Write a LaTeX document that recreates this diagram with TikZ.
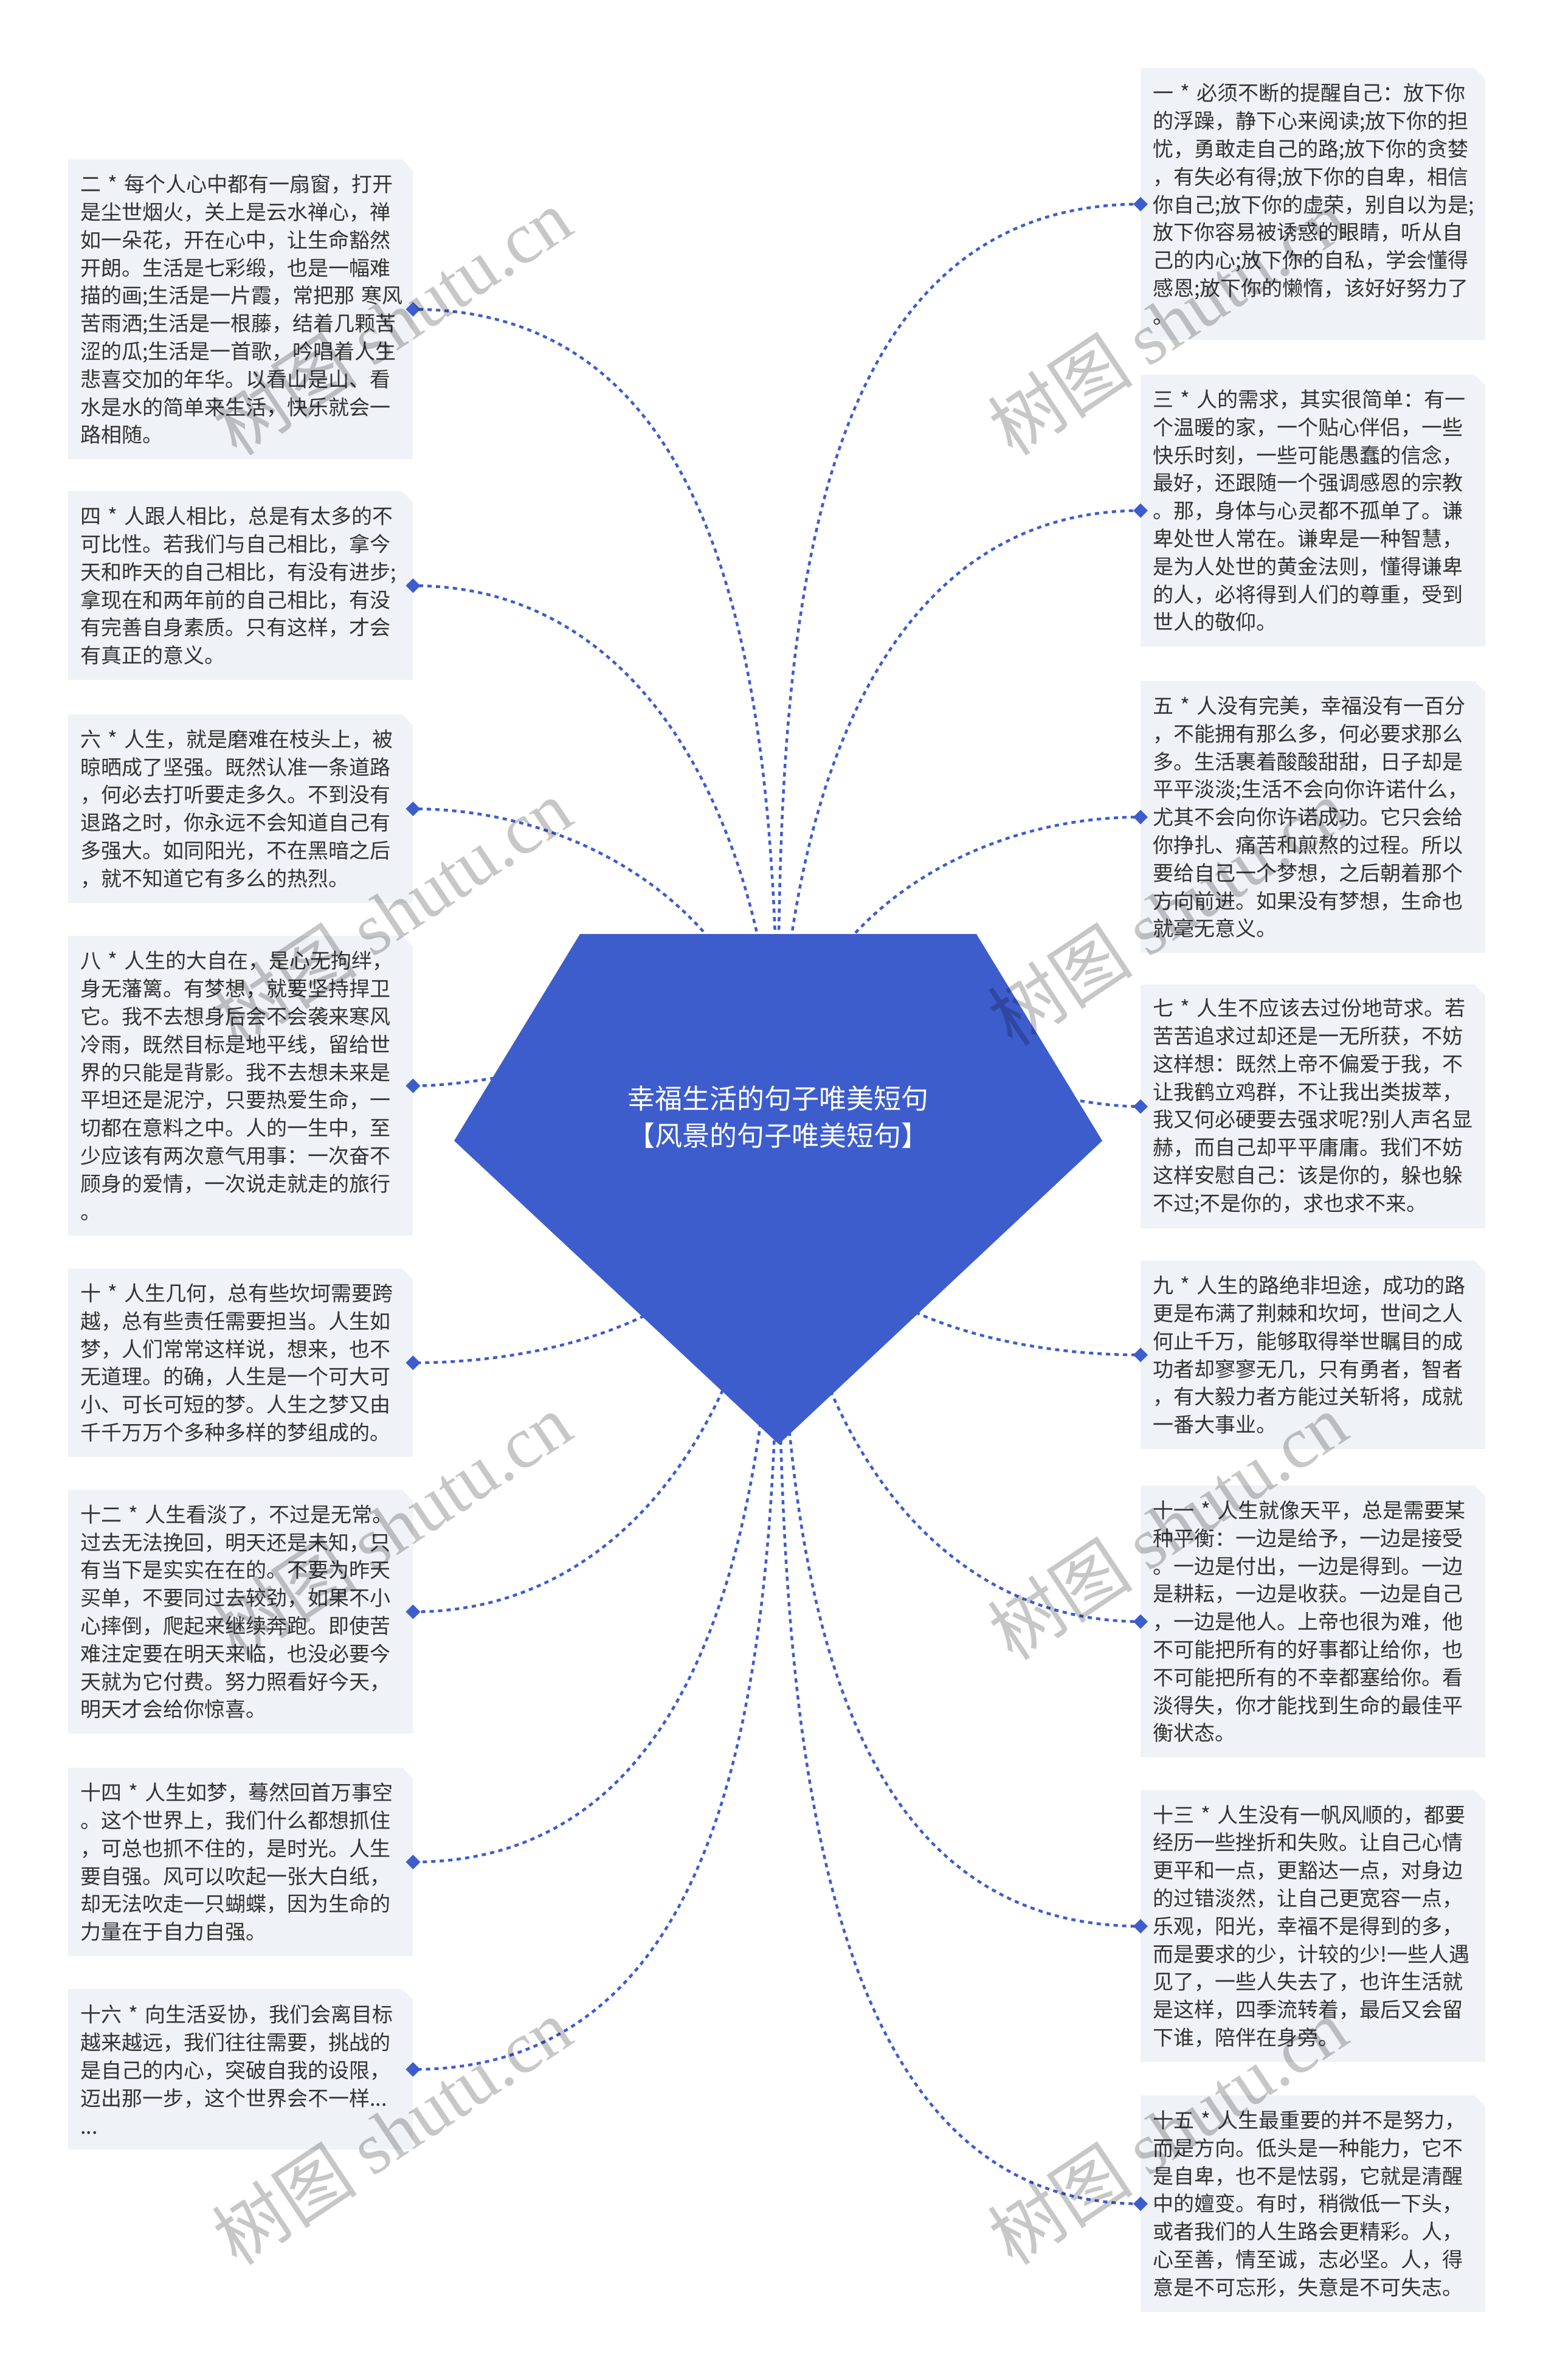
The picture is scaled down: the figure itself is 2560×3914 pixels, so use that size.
\documentclass[tikz,border=0pt]{standalone}
\usepackage{fontspec}
\setmainfont{Noto Sans CJK SC}
\newfontfamily\wmser{Liberation Serif}
\usetikzlibrary{shapes.geometric}
\definecolor{mainblue}{RGB}{61,93,205}
\definecolor{boxfill}{RGB}{239,242,246}
\definecolor{txt}{RGB}{51,51,51}
\newcommand\chamf[1]{\fill[white] ([xshift=-18pt]#1.north east) -- (#1.north east) -- ([yshift=-18pt]#1.north east) -- cycle;}
\begin{document}
\begin{tikzpicture}[x=1pt,y=-1pt,
  box/.style={fill=boxfill, text=txt, anchor=north west, align=left, text width=527pt, inner xsep=20pt, inner ysep=0pt, font=\fontsize{34}{45.8}\selectfont},
  conn/.style={draw=mainblue, line width=4.5pt, dash pattern=on 7pt off 7pt},
  dmark/.style={diamond, fill=mainblue, inner sep=0pt, minimum size=24pt},
  wm/.style={rotate=33.7, text=black, opacity=0.22, font=\fontsize{120}{120}\selectfont, inner sep=0pt}
]
\path[use as bounding box, fill=white] (0,0) rectangle (2560,3914);
\coordinate (c) at (1280,1851);
% left boxes
\node[box, minimum height=493pt] (b2) at (112,262) {二~*~每个人心中都有一扇窗，打开\\是尘世烟火，关上是云水禅心，禅\\如一朵花，开在心中，让生命豁然\\开朗。生活是七彩缎，也是一幅难\\描的画;生活是一片霞，常把那~寒风\\苦雨洒;生活是一根藤，结着几颗苦\\涩的瓜;生活是一首歌，吟唱着人生\\悲喜交加的年华。以看山是山、看\\水是水的简单来生活，快乐就会一\\路相随。};
\node[box, minimum height=310pt] (b4) at (112,808) {四~*~人跟人相比，总是有太多的不\\可比性。若我们与自己相比，拿今\\天和昨天的自己相比，有没有进步;\\拿现在和两年前的自己相比，有没\\有完善自身素质。只有这样，才会\\有真正的意义。};
\node[box, minimum height=310pt] (b6) at (112,1175) {六~*~人生，就是磨难在枝头上，被\\晾晒成了坚强。既然认准一条道路\\，何必去打听要走多久。不到没有\\退路之时，你永远不会知道自己有\\多强大。如同阳光，不在黑暗之后\\，就不知道它有多么的热烈。};
\node[box, minimum height=493pt] (b8) at (112,1539) {八~*~人生的大自在，是心无拘绊，\\身无藩篱。有梦想，就要坚持捍卫\\它。我不去想身后会不会袭来寒风\\冷雨，既然目标是地平线，留给世\\界的只能是背影。我不去想未来是\\平坦还是泥泞，只要热爱生命，一\\切都在意料之中。人的一生中，至\\少应该有两次意气用事：一次奋不\\顾身的爱情，一次说走就走的旅行\\。};
\node[box, minimum height=310pt] (b10) at (112,2086) {十~*~人生几何，总有些坎坷需要跨\\越，总有些责任需要担当。人生如\\梦，人们常常这样说，想来，也不\\无道理。的确，人生是一个可大可\\小、可长可短的梦。人生之梦又由\\千千万万个多种多样的梦组成的。};
\node[box, minimum height=401pt] (b12) at (112,2450) {十二~*~人生看淡了，不过是无常。\\过去无法挽回，明天还是未知，只\\有当下是实实在在的。不要为昨天\\买单，不要同过去较劲，如果不小\\心摔倒，爬起来继续奔跑。即使苦\\难注定要在明天来临，也没必要今\\天就为它付费。努力照看好今天，\\明天才会给你惊喜。};
\node[box, minimum height=310pt] (b14) at (112,2907) {十四~*~人生如梦，蓦然回首万事空\\。这个世界上，我们什么都想抓住\\，可总也抓不住的，是时光。人生\\要自强。风可以吹起一张大白纸，\\却无法吹走一只蝴蝶，因为生命的\\力量在于自力自强。};
\node[box, minimum height=264pt] (b16) at (112,3271) {十六~*~向生活妥协，我们会离目标\\越来越远，我们往往需要，挑战的\\是自己的内心，突破自我的设限，\\迈出那一步，这个世界会不一样...\\...};
% right boxes
\node[box, minimum height=447pt] (b1) at (1876,112) {一~*~必须不断的提醒自己：放下你\\的浮躁，静下心来阅读;放下你的担\\忧，勇敢走自己的路;放下你的贪婪\\，有失必有得;放下你的自卑，相信\\你自己;放下你的虚荣，别自以为是;\\放下你容易被诱惑的眼睛，听从自\\己的内心;放下你的自私，学会懂得\\感恩;放下你的懒惰，该好好努力了\\。};
\node[box, minimum height=447pt] (b3) at (1876,616) {三~*~人的需求，其实很简单：有一\\个温暖的家，一个贴心伴侣，一些\\快乐时刻，一些可能愚蠢的信念，\\最好，还跟随一个强调感恩的宗教\\。那，身体与心灵都不孤单了。谦\\卑处世人常在。谦卑是一种智慧，\\是为人处世的黄金法则，懂得谦卑\\的人，必将得到人们的尊重，受到\\世人的敬仰。};
\node[box, minimum height=447pt] (b5) at (1876,1120) {五~*~人没有完美，幸福没有一百分\\，不能拥有那么多，何必要求那么\\多。生活裹着酸酸甜甜，日子却是\\平平淡淡;生活不会向你许诺什么，\\尤其不会向你许诺成功。它只会给\\你挣扎、痛苦和煎熬的过程。所以\\要给自己一个梦想，之后朝着那个\\方向前进。如果没有梦想，生命也\\就毫无意义。};
\node[box, minimum height=401pt] (b7) at (1876,1619) {七~*~人生不应该去过份地苛求。若\\苦苦追求过却还是一无所获，不妨\\这样想：既然上帝不偏爱于我，不\\让我鹤立鸡群，不让我出类拔萃，\\我又何必硬要去强求呢?别人声名显\\赫，而自己却平平庸庸。我们不妨\\这样安慰自己：该是你的，躲也躲\\不过;不是你的，求也求不来。};
\node[box, minimum height=310pt] (b9) at (1876,2073) {九~*~人生的路绝非坦途，成功的路\\更是布满了荆棘和坎坷，世间之人\\何止千万，能够取得举世瞩目的成\\功者却寥寥无几，只有勇者，智者\\，有大毅力者方能过关斩将，成就\\一番大事业。};
\node[box, minimum height=447pt] (b11) at (1876,2443) {十一~*~人生就像天平，总是需要某\\种平衡：一边是给予，一边是接受\\。一边是付出，一边是得到。一边\\是耕耘，一边是收获。一边是自己\\，一边是他人。上帝也很为难，他\\不可能把所有的好事都让给你，也\\不可能把所有的不幸都塞给你。看\\淡得失，你才能找到生命的最佳平\\衡状态。};
\node[box, minimum height=447pt] (b13) at (1876,2944) {十三~*~人生没有一帆风顺的，都要\\经历一些挫折和失败。让自己心情\\更平和一点，更豁达一点，对身边\\的过错淡然，让自己更宽容一点，\\乐观，阳光，幸福不是得到的多，\\而是要求的少，计较的少!一些人遇\\见了，一些人失去了，也许生活就\\是这样，四季流转着，最后又会留\\下谁，陪伴在身旁。};
\node[box, minimum height=356pt] (b15) at (1876,3446) {十五~*~人生最重要的并不是努力，\\而是方向。低头是一种能力，它不\\是自卑，也不是怯弱，它就是清醒\\中的嬗变。有时，稍微低一下头，\\或者我们的人生路会更精彩。人，\\心至善，情至诚，志必坚。人，得\\意是不可忘形，失意是不可失志。};
\foreach \b in {b1,b2,b3,b4,b5,b6,b7,b8,b9,b10,b11,b12,b13,b14,b15,b16}{\chamf{\b}}
% connectors
\draw[conn] (c) .. controls (1280,1275) and (1255,508.5) .. (b2.east);
\draw[conn] (c) .. controls (1280,1431) and (1099,963) .. (b4.east);
\draw[conn] (c) .. controls (1280,1540) and (990,1330) .. (b6.east);
\draw[conn] (c) .. controls (1280,1614) and (916,1785.5) .. (b8.east);
\draw[conn] (c) .. controls (1280,2131) and (960,2241) .. (b10.east);
\draw[conn] (c) .. controls (1280,2243) and (1071,2650.5) .. (b12.east);
\draw[conn] (c) .. controls (1280,2380) and (1208,3062) .. (b14.east);
\draw[conn] (c) .. controls (1280,2503) and (1300,3403) .. (b16.east);
\draw[conn] (c) .. controls (1280,1213.5) and (1260,335.5) .. (b1.west);
\draw[conn] (c) .. controls (1280,1391) and (1416,839.5) .. (b3.west);
\draw[conn] (c) .. controls (1280,1544.5) and (1569.5,1343.5) .. (b5.west);
\draw[conn] (c) .. controls (1280,1617) and (1642,1819.5) .. (b7.west);
\draw[conn] (c) .. controls (1280,2127) and (1600,2228) .. (b9.west);
\draw[conn] (c) .. controls (1280,2246.5) and (1480.5,2666.5) .. (b11.west);
\draw[conn] (c) .. controls (1280,2417) and (1310,3167.5) .. (b13.west);
\draw[conn] (c) .. controls (1280,2583) and (1260,3624) .. (b15.west);
% central gem
\fill[mainblue] (954,1536) -- (1606,1536) -- (1813,1876) -- (1281,2375) -- (747,1876) -- cycle;
\node[text=white, font=\fontsize{45}{61}\selectfont, align=center] (root) at (1280,1837) {幸福生活的句子唯美短句\\【风景的句子唯美短句】};
% markers
\foreach \b in {b2,b4,b6,b8,b10,b12,b14,b16}{\node[dmark] (m\b) at (\b.east) {};}
\foreach \b in {b1,b3,b5,b7,b9,b11,b13,b15}{\node[dmark] (m\b) at (\b.west) {};}
% watermarks
\node[wm] (w1) at (644,529) {树图 {\wmser shutu.cn}};
\node[wm] (w2) at (644,1500) {树图 {\wmser shutu.cn}};
\node[wm] (w3) at (644,2510) {树图 {\wmser shutu.cn}};
\node[wm] (w4) at (644,3505) {树图 {\wmser shutu.cn}};
\node[wm] (w5) at (1920,529) {树图 {\wmser shutu.cn}};
\node[wm] (w6) at (1920,1500) {树图 {\wmser shutu.cn}};
\node[wm] (w7) at (1920,2510) {树图 {\wmser shutu.cn}};
\node[wm] (w8) at (1920,3505) {树图 {\wmser shutu.cn}};
\end{tikzpicture}
\end{document}
